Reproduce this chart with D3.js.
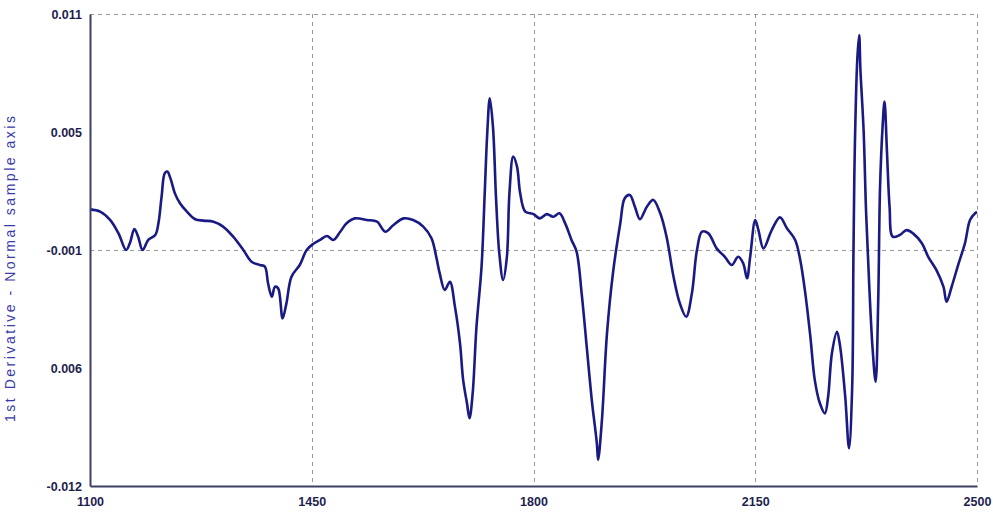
<!DOCTYPE html>
<html>
<head>
<meta charset="utf-8">
<script src="https://cdn.jsdelivr.net/npm/d3@7"></script>
<style>
  html, body { margin: 0; padding: 0; background: #ffffff; }
  svg { display: block; }
</style>
</head>
<body>
<svg id="chart" width="993" height="513"></svg>
<script>
// ---- Data ----
const wavelengths = [1100,1116,1132,1145,1157,1163,1170,1176,1183,1192,1203,1208,1213,1218,1222,1227,1234,1242,1253,1266,1279,1295,1310,1326,1342,1355,1368,1376,1381,1387,1392,1397,1404,1410,1418,1431,1442,1452,1463,1474,1484,1495,1505,1518,1537,1553,1566,1579,1595,1610,1626,1639,1647,1652,1660,1668,1676,1684,1689,1695,1699,1704,1710,1718,1723,1727,1731,1736,1741,1746,1752,1758,1762,1768,1774,1779,1787,1800,1810,1821,1831,1841,1850,1860,1868,1876,1884,1892,1900,1902,1908,1916,1926,1937,1944,1952,1960,1968,1979,1989,2000,2010,2021,2031,2041,2050,2058,2066,2076,2089,2102,2113,2123,2131,2137,2142,2150,2155,2163,2176,2189,2200,2213,2221,2229,2237,2244,2252,2260,2265,2271,2279,2284,2292,2298,2303,2305,2307,2311,2314,2316,2321,2325,2330,2335,2340,2344,2347,2351,2354,2358,2362,2367,2378,2389,2399,2413,2423,2436,2447,2452,2460,2471,2481,2489,2497,2500];
const derivative = [0.00148,0.00137,0.00096,0.00031,-0.00050,-0.00016,0.00052,0.00015,-0.00050,-0.00001,0.00023,0.00080,0.00210,0.00324,0.00332,0.00299,0.00226,0.00178,0.00137,0.00100,0.00093,0.00088,0.00064,0.00015,-0.00050,-0.00107,-0.00123,-0.00131,-0.00212,-0.00278,-0.00229,-0.00237,-0.00383,-0.00310,-0.00180,-0.00123,-0.00050,-0.00021,-0.00001,0.00018,-0.00001,0.00039,0.00080,0.00104,0.00096,0.00088,0.00039,0.00072,0.00104,0.00096,0.00064,0.00007,-0.00091,-0.00164,-0.00245,-0.00205,-0.00326,-0.00505,-0.00684,-0.00797,-0.00870,-0.00748,-0.00424,-0.00131,0.00226,0.00519,0.00689,0.00551,0.00194,-0.00066,-0.00196,-0.00083,0.00226,0.00405,0.00356,0.00226,0.00137,0.00125,0.00104,0.00125,0.00112,0.00129,0.00080,-0.00001,-0.00058,-0.00261,-0.00521,-0.00781,-0.00992,-0.01073,-0.00879,-0.00456,-0.00148,0.00080,0.00202,0.00218,0.00161,0.00100,0.00161,0.00194,0.00129,0.00015,-0.00180,-0.00310,-0.00375,-0.00261,-0.00050,0.00039,0.00031,-0.00042,-0.00083,-0.00123,-0.00083,-0.00115,-0.00188,-0.00083,0.00096,0.00047,-0.00042,0.00047,0.00109,0.00056,-0.00001,-0.00099,-0.00261,-0.00473,-0.00684,-0.00797,-0.00846,-0.00765,-0.00553,-0.00448,-0.00521,-0.00765,-0.01016,-0.00716,-0.00066,0.00421,0.00876,0.00998,0.00827,0.00535,0.00129,-0.00229,-0.00521,-0.00692,-0.00310,0.00258,0.00551,0.00673,0.00421,0.00161,0.00015,0.00023,0.00047,0.00031,-0.00017,-0.00083,-0.00148,-0.00229,-0.00302,-0.00229,-0.00115,-0.00017,0.00096,0.00129,0.00135];

const xTickValues = [1100, 1450, 1800, 2150, 2500];
const xTickLabels = ["1100", "1450", "1800", "2150", "2500"];
const yTickValues = [0.011, 0.00525, -0.0005, -0.00625, -0.012];
const yTickLabels = ["0.011", "0.005", "-0.001", "0.006", "-0.012"];
const xGridValues = [1450, 1800, 2150, 2500];
const yGridValues = [0.011, -0.0005];
const yAxisTitle = "1st Derivative - Normal sample axis";

// ---- Chart ----
const svg = d3.select("#chart");
const mLeft = 90, mRight = 977, mTop = 14, mBottom = 486;

const x = d3.scaleLinear().domain([1100, 2500]).range([mLeft, mRight]);
const y = d3.scaleLinear().domain([-0.012, 0.011]).range([mBottom, mTop]);

svg.append("rect").attr("width", 993).attr("height", 513).attr("fill", "#ffffff");

// gridlines
const grid = svg.append("g").attr("stroke", "#9a9a9a").attr("stroke-width", 1)
  .attr("stroke-dasharray", "4,4").attr("fill", "none");
grid.selectAll("line.h").data(yGridValues).enter().append("line")
  .attr("class", "h")
  .attr("x1", mLeft).attr("x2", mRight)
  .attr("y1", d => Math.round(y(d)) + 0.5).attr("y2", d => Math.round(y(d)) + 0.5);
grid.selectAll("line.v").data(xGridValues).enter().append("line")
  .attr("class", "v")
  .attr("y1", mTop).attr("y2", mBottom)
  .attr("x1", d => Math.round(x(d)) + 0.5).attr("x2", d => Math.round(x(d)) + 0.5);

// data line
const line = d3.line()
  .curve(d3.curveCatmullRom.alpha(0.5))
  .x((d, i) => x(wavelengths[i])).y(d => y(d));
svg.append("path")
  .datum(derivative)
  .attr("d", line)
  .attr("fill", "none")
  .attr("stroke", "#1a1a84")
  .attr("stroke-width", 2.6)
  .attr("stroke-linejoin", "round");

// axes
const xAxis = d3.axisBottom(x).tickValues(xTickValues)
  .tickFormat((d, i) => xTickLabels[i]).tickSize(0).tickPadding(11);
const yAxis = d3.axisLeft(y).tickValues(yTickValues)
  .tickFormat((d, i) => yTickLabels[i]).tickSize(0).tickPadding(8);

const gx = svg.append("g").attr("transform", `translate(0,${mBottom})`).call(xAxis);
const gy = svg.append("g").attr("transform", `translate(${mLeft},0)`).call(yAxis);

[gx, gy].forEach(g => {
  g.select(".domain").attr("stroke", "#3e3e62").attr("stroke-width", 2);
  g.selectAll("text")
    .attr("fill", "#1e1e4e")
    .style("font-family", "'Liberation Sans', Arial, sans-serif")
    .style("font-size", "12.5px")
    .style("font-weight", "bold");
});

// y axis title
svg.append("text")
  .attr("transform", "translate(15,269) rotate(-90)")
  .attr("text-anchor", "middle")
  .attr("textLength", 306)
  .attr("lengthAdjust", "spacing")
  .attr("fill", "#3a3aa8")
  .style("font-family", "'Liberation Sans', Arial, sans-serif")
  .style("font-size", "14px")
  .text(yAxisTitle);
</script>
</body>
</html>
